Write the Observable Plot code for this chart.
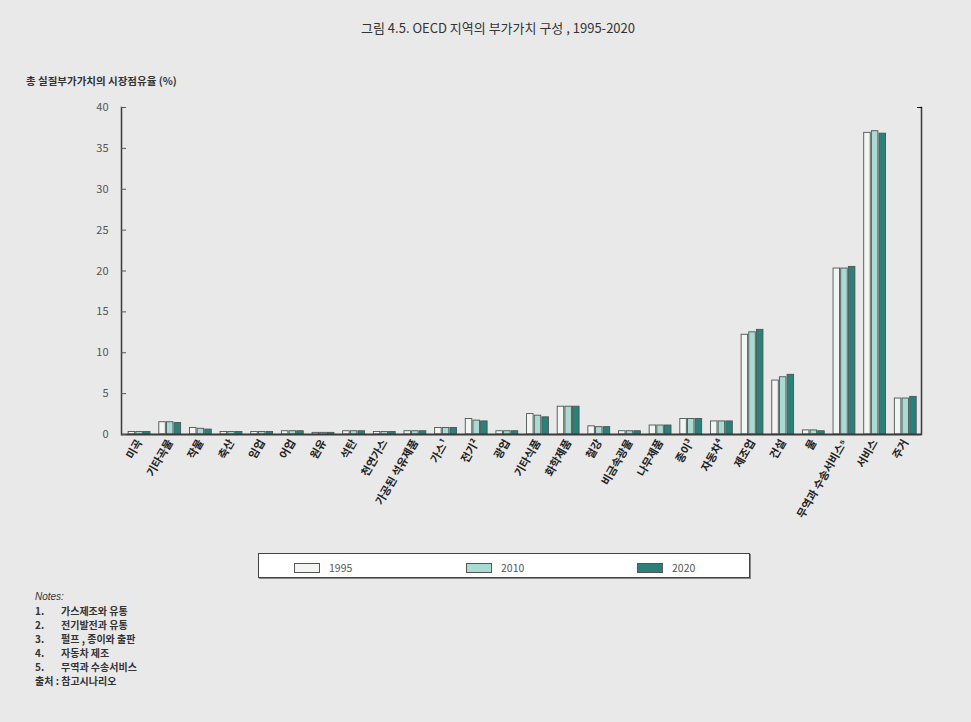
<!DOCTYPE html>
<html><head><meta charset="utf-8">
<script src="https://cdn.jsdelivr.net/npm/d3@7"></script>
<script src="https://cdn.jsdelivr.net/npm/@observablehq/plot@0.6"></script>
<style>
body{margin:0;background:#e9e9e9;}
#wrap{position:relative;width:971px;height:722px;overflow:hidden;background:#e9e9e9;font-family:"Noto Sans CJK KR","Noto Sans",sans-serif;}
#chart{position:absolute;left:0;top:0;}
#title{position:absolute;left:0;top:18px;width:996px;text-align:center;font-size:13px;color:#333;}
#ylabel{position:absolute;left:26px;top:73px;font-size:10.5px;font-weight:700;color:#333;}
#legend{position:absolute;left:258px;top:553px;width:490px;height:23px;background:#fff;border:1.5px solid #444;box-shadow:1px 1px 0 #888;font-size:10.5px;color:#555;}
.li{position:absolute;top:6px;display:flex;align-items:center;}
.sw{width:24px;height:8px;border:1.5px solid #555;margin-right:9px;}
#notes{position:absolute;left:35px;top:590px;font-size:10px;color:#333;line-height:14px;font-weight:600;}
#notes .h{font-style:italic;font-weight:400;font-family:"Liberation Sans",sans-serif;}
#notes .n{display:inline-block;width:26px;}
</style></head><body><div id="wrap">
<div id="title"></div>
<div id="ylabel"></div>
<div id="chart"></div>
<div id="legend"></div>
<div id="notes"></div>
</div>
<script>
const title = "그림 4.5.  OECD 지역의 부가가치 구성 , 1995-2020";
const yLabel = "총 실질부가가치의 시장점유율 (%)";
const categories = ["미곡","기타곡물","작물","축산","임업","어업","원유","석탄","천연가스","가공된 석유제품","가스¹","전기²","광업","기타식품","화학제품","철강","비금속광물","나무제품","종이³","자동차⁴","제조업","건설","물","무역과 수송서비스⁵","서비스","주거"];
const years = ["1995","2010","2020"];
const v1995 = [0.3,1.5,0.8,0.3,0.3,0.4,0.2,0.4,0.3,0.4,0.8,1.9,0.4,2.5,3.4,1.0,0.4,1.1,1.9,1.6,12.2,6.6,0.5,20.3,36.9,4.4];
const v2010 = [0.3,1.5,0.7,0.3,0.3,0.4,0.2,0.4,0.3,0.4,0.8,1.7,0.4,2.3,3.4,0.9,0.4,1.1,1.9,1.6,12.5,7.0,0.5,20.3,37.1,4.4];
const v2020 = [0.3,1.4,0.6,0.3,0.3,0.4,0.2,0.4,0.3,0.4,0.8,1.6,0.4,2.1,3.4,0.9,0.4,1.1,1.9,1.6,12.8,7.3,0.4,20.5,36.8,4.6];
const yTicks = [0,5,10,15,20,25,30,35,40];
const colors = ["#f3f5f3","#a9dbd2","#2b807a"];
const noteHead = "Notes:";
const notes = ["가스제조와 유통","전기발전과 유통","펄프 , 종이와 출판","자동차 제조","무역과 수송서비스"];
const source = "출처 :  참고시나리오";

const series = [v1995, v2010, v2020];
const data = [];
categories.forEach((c, i) => years.forEach((y, j) => data.push({key: `${i}-${j}`, cat: c, year: y, value: series[j][i]})));
const domainX = categories.flatMap((c, i) => [`${i}-0`, `${i}-1`, `${i}-2`, `${i}-s`]);
const tickKeys = categories.map((c, i) => `${i}-1`);

const chart = Plot.plot({
  width: 971, height: 722,
  marginTop: 107, marginBottom: 288, marginLeft: 121, marginRight: 50,
  style: {background: "transparent", fontFamily: "'Noto Sans CJK KR', sans-serif"},
  x: {domain: domainX, padding: 0.15, insetLeft: 6, insetRight: -4},
  y: {domain: [0, 40]},
  color: {domain: years, range: colors},
  marks: [
    Plot.barY(data, {x: "key", y: "value", fill: "year", stroke: "#4a5552", strokeWidth: 0.9}),
    Plot.ruleY([0], {stroke: "#3a3a3a", strokeWidth: 2}),
    Plot.frame({anchor: "left", stroke: "#3a3a3a", strokeWidth: 1.5}),
    Plot.frame({anchor: "right", stroke: "#3a3a3a", strokeWidth: 1.5}),
    Plot.axisY({ticks: yTicks, tickSize: -5, tickPadding: 18, fontSize: 11, color: "#555", label: null}),
    Plot.axisY({anchor: "right", ticks: [40], tickSize: -5, tickFormat: () => "", label: null}),
    Plot.axisX({ticks: tickKeys, tickFormat: k => categories[+k.split("-")[0]], tickSize: 0, tickPadding: 6, tickRotate: -60, fontSize: 11, fontWeight: 700, color: "#222", label: null})
  ]
});
document.getElementById("chart").appendChild(chart);
document.getElementById("title").textContent = title;
document.getElementById("ylabel").textContent = yLabel;

const lg = document.getElementById("legend");
const lx = [35, 207, 378];
years.forEach((y, j) => {
  const d = document.createElement("div");
  d.className = "li"; d.style.left = lx[j] + "px";
  const s = document.createElement("div"); s.className = "sw"; s.style.background = colors[j];
  const t = document.createElement("span"); t.textContent = y;
  d.appendChild(s); d.appendChild(t); lg.appendChild(d);
});
const nt = document.getElementById("notes");
const h = document.createElement("div"); h.className = "h"; h.textContent = noteHead; nt.appendChild(h);
notes.forEach((n, i) => {
  const d = document.createElement("div");
  d.innerHTML = `<span class="n">${i + 1}.</span>${n}`;
  nt.appendChild(d);
});
const src = document.createElement("div"); src.textContent = source; nt.appendChild(src);
</script></body></html>
